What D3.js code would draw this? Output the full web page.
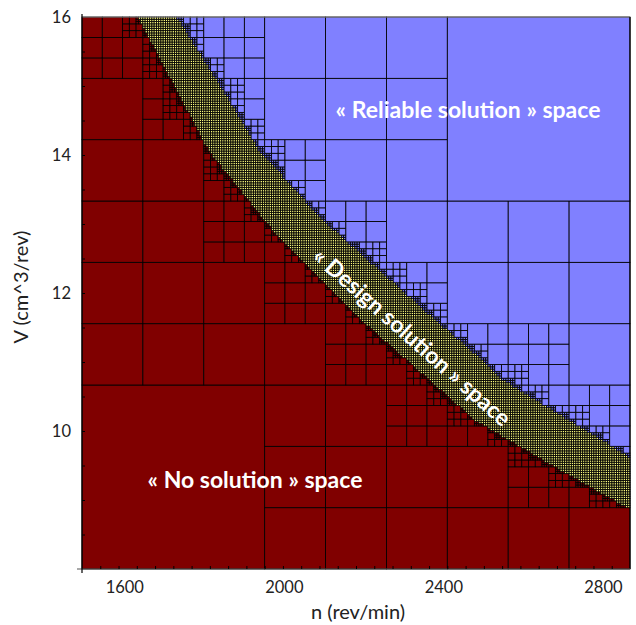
<!DOCTYPE html>
<html>
<head>
<meta charset="utf-8">
<script src="https://cdn.jsdelivr.net/npm/d3@7"></script>
<style>
  body { margin: 0; background: #fff; }
  text { font-family: Lato, "Open Sans", sans-serif; }
</style>
</head>
<body>
<div id="chart"></div>
<script>
// axis values
var nTicks = [1600, 2000, 2400, 2800];
var vTicks = [10, 12, 14, 16];
var nRange = [1494, 2868];
var vRange = [8, 16];

// edge between the "no solution" space and the design band (n, V)
var lowN = [1639, 1815, 1990, 2199, 2484, 2685, 2863];
var lowV = [16.0, 14.08, 12.82, 11.62, 10.17, 9.49, 8.91];

// edge between the design band and the "reliable solution" space (n, V)
var upN = [1727, 1858, 1933, 2091, 2374, 2492, 2542, 2843];
var upV = [16.0, 14.80, 14.07, 13.06, 11.61, 11.03, 10.74, 9.68];

var width = 636, height = 625;
var plotL = 82, plotR = 630, plotT = 17, plotB = 569;

var svg = d3.select('#chart').append('svg')
    .attr('width', width)
    .attr('height', height);

var x = d3.scaleLinear().domain(nRange).range([plotL, plotR]);
var y = d3.scaleLinear().domain(vRange).range([plotB, plotT]);

// boundaries as piecewise scales (they extrapolate past the end points)
var lowEdge = d3.scaleLinear().domain(lowN).range(lowV);
var upEdge = d3.scaleLinear().domain(upN).range(upV);

// split the search box in 3x3 until each piece is sure, or too small
var maxDepth = 5;
var boxes = [];
function split(n0, n1, v0, v1, depth) {
    if (v1 < lowEdge(n1)) { boxes.push({n0: n0, n1: n1, v0: v0, v1: v1, kind: 'none'}); return; }
    if (v0 > upEdge(n0)) { boxes.push({n0: n0, n1: n1, v0: v0, v1: v1, kind: 'reliable'}); return; }
    if (depth === maxDepth) { boxes.push({n0: n0, n1: n1, v0: v0, v1: v1, kind: 'design'}); return; }
    var dn = (n1 - n0) / 3, dv = (v1 - v0) / 3;
    for (var i = 0; i < 3; i++) {
        for (var j = 0; j < 3; j++) {
            split(n0 + i * dn, n0 + (i + 1) * dn, v0 + j * dv, v0 + (j + 1) * dv, depth + 1);
        }
    }
}
split(nRange[0], nRange[1], vRange[0], vRange[1], 0);

var colour = {none: '#800000', reliable: '#8080ff', design: '#ffff80'};

svg.append('g').selectAll('rect')
    .data(boxes)
    .enter().append('rect')
    .attr('x', function(d) { return x(d.n0); })
    .attr('y', function(d) { return y(d.v1); })
    .attr('width', function(d) { return x(d.n1) - x(d.n0); })
    .attr('height', function(d) { return y(d.v0) - y(d.v1); })
    .style('fill', function(d) { return colour[d.kind]; })
    .style('stroke', '#000')
    .style('stroke-width', 0.85);

// frame
svg.append('line').attr('x1', plotL).attr('x2', plotR).attr('y1', plotT).attr('y2', plotT)
    .style('stroke', '#888').style('stroke-width', 1.2);
svg.append('line').attr('x1', plotR).attr('x2', plotR).attr('y1', plotT).attr('y2', plotB)
    .style('stroke', '#000').style('stroke-width', 1.2);
svg.append('line').attr('x1', plotL - 5).attr('x2', plotR).attr('y1', plotB).attr('y2', plotB)
    .style('stroke', '#555').style('stroke-width', 1.2);
svg.append('line').attr('x1', plotL).attr('x2', plotL).attr('y1', plotT - 3).attr('y2', plotB + 4)
    .style('stroke', '#000').style('stroke-width', 1.2);

// small inner ticks
var xMinor = d3.scaleLinear().domain([0, 30]).range([plotL, plotR]);
svg.append('g')
    .attr('transform', 'translate(0,' + plotB + ')')
    .call(d3.axisTop(xMinor).tickValues(d3.range(1, 30)).tickSize(3).tickFormat(''))
    .call(function(g) { g.select('.domain').remove(); });
svg.append('g')
    .attr('transform', 'translate(' + plotL + ',0)')
    .call(d3.axisRight(y).tickValues(d3.range(8.5, 16, 0.5)).tickSize(3).tickFormat(''))
    .call(function(g) { g.select('.domain').remove(); });

// tick labels
svg.append('g')
    .attr('transform', 'translate(0,' + plotB + ')')
    .call(d3.axisBottom(x).tickValues(nTicks).tickSize(0).tickPadding(12).tickFormat(d3.format('d')))
    .call(function(g) {
        g.select('.domain').remove();
        g.selectAll('text').style('font-size', '16.5px').style('fill', '#222');
    });
svg.append('g')
    .attr('transform', 'translate(' + plotL + ',0)')
    .call(d3.axisLeft(y).tickValues(vTicks).tickSize(0).tickPadding(11).tickFormat(d3.format('d')))
    .call(function(g) {
        g.select('.domain').remove();
        g.selectAll('text').style('font-size', '16.5px').style('fill', '#222');
    });

// axis titles
svg.append('text')
    .attr('x', 358)
    .attr('y', 619)
    .attr('text-anchor', 'middle')
    .style('font-size', '20px')
    .style('fill', '#222')
    .text('n (rev/min)');
svg.append('text')
    .attr('transform', 'translate(28,287) rotate(-90)')
    .attr('text-anchor', 'middle')
    .style('font-size', '20px')
    .style('fill', '#222')
    .text('V (cm^3/rev)');

// region captions
function caption(text, cx, cy, angle) {
    svg.append('text')
        .attr('transform', 'translate(' + cx + ',' + cy + ') rotate(' + angle + ')')
        .attr('text-anchor', 'middle')
        .attr('dy', '0.35em')
        .style('font-size', '23px')
        .style('font-weight', 'bold')
        .style('fill', '#fff')
        .text(text);
}
caption('\u00ab Reliable solution \u00bb space', 468, 110, 0);
caption('\u00ab No solution \u00bb space', 255, 480, 0);
caption('\u00ab Design solution \u00bb space', 412, 337, 41.5);
</script>
</body>
</html>
